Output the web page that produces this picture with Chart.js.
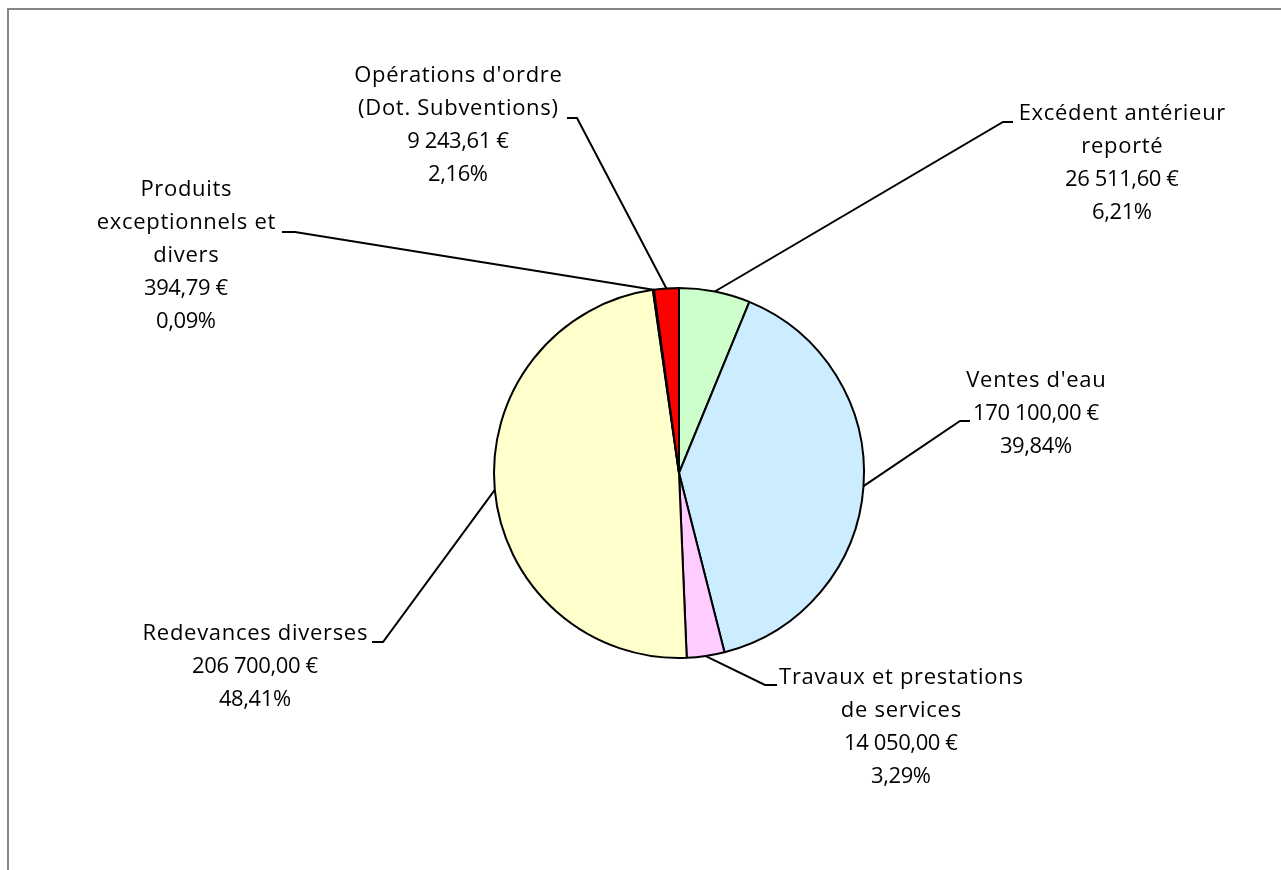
<!DOCTYPE html>
<html>
<head>
<meta charset="utf-8">
<script src="https://cdn.jsdelivr.net/npm/chart.js@4"></script>
<style>
    html, body { margin: 0; padding: 0; background: #fff; overflow: hidden; }
    #frame {
        position: absolute; left: 7px; top: 8px; width: 1290px; height: 880px;
        border-top: 2px solid #868686; border-left: 2px solid #868686;
    }
    #wrap { position: absolute; left: 0; top: 0; width: 1281px; height: 870px; }
</style>
</head>
<body>
<div id="frame"></div>
<div id="wrap"><canvas id="pieChart" width="1281" height="870"></canvas></div>
<script>
// Données (ordre horaire depuis midi)
const categories = [
    ['Excédent antérieur', 'reporté'],
    ["Ventes d'eau"],
    ['Travaux et prestations', 'de services'],
    ['Redevances diverses'],
    ['Produits', 'exceptionnels et', 'divers'],
    ["Opérations d'ordre", '(Dot. Subventions)']
];
const amounts = [26511.60, 170100.00, 14050.00, 206700.00, 394.79, 9243.61];
const sliceColors = ['#CCFFCC', '#CCECFF', '#FFCCFF', '#FFFFCC', '#FFFFFF', '#FF0000'];

// Placement des étiquettes : centre du texte, y de la 1re ligne, coude et fin de la ligne de rappel
const labelLayout = [
    { cx: 1122, y: 114, elbow: [1003, 122], end: [1013, 122] },
    { cx: 1036, y: 381, elbow: [960, 421], end: [970, 421] },
    { cx: 901,  y: 678, elbow: [765, 685], end: [777, 685] },
    { cx: 255,  y: 634, elbow: [383, 642], end: [372, 642] },
    { cx: 186,  y: 190, elbow: [295, 232], end: [282, 232] },
    { cx: 458,  y: 76,  elbow: [577, 118], end: [567, 118] }
];
const lineHeight = 33;
const labelFont = '22px "Open Sans", sans-serif';
const nameSpacing = 0.7;
const valueSpacing = -0.4;

// Format français : 26 511,60 €
function formatEuro(v) {
    const parts = v.toFixed(2).split('.');
    const ent = parts[0].replace(/\B(?=(\d{3})+(?!\d))/g, ' ');
    return ent + ',' + parts[1] + ' €';
}
function formatPct(v, total) {
    return (v / total * 100).toFixed(2).replace('.', ',') + '%';
}

// Étiquettes avec lignes de rappel
const leaderLabels = {
    id: 'leaderLabels',
    afterDatasetsDraw(chart) {
        const ctx = chart.ctx;
        const meta = chart.getDatasetMeta(0);
        const total = amounts.reduce((a, b) => a + b, 0);
        ctx.save();
        meta.data.forEach((arc, i) => {
            const p = arc.getProps(['x', 'y', 'startAngle', 'endAngle', 'outerRadius'], true);
            const mid = (p.startAngle + p.endAngle) / 2;
            const px = p.x + Math.cos(mid) * p.outerRadius;
            const py = p.y + Math.sin(mid) * p.outerRadius;
            const lay = labelLayout[i];

            ctx.strokeStyle = '#000';
            ctx.lineWidth = 2;
            ctx.beginPath();
            ctx.moveTo(px, py);
            ctx.lineTo(lay.elbow[0], lay.elbow[1]);
            ctx.lineTo(lay.end[0], lay.end[1]);
            ctx.stroke();

            const names = categories[i];
            const lines = names.concat([formatEuro(amounts[i]), formatPct(amounts[i], total)]);
            ctx.fillStyle = '#000';
            ctx.font = labelFont;
            ctx.textAlign = 'center';
            ctx.textBaseline = 'middle';
            lines.forEach((txt, k) => {
                const sp = k < names.length ? nameSpacing : valueSpacing;
                ctx.letterSpacing = sp + 'px';
                ctx.fillText(txt, lay.cx + sp / 2, lay.y + k * lineHeight);
            });
        });
        ctx.restore();
    }
};

new Chart(document.getElementById('pieChart').getContext('2d'), {
    type: 'pie',
    data: {
        labels: categories.map(c => c.join(' ')),
        datasets: [{
            data: amounts,
            backgroundColor: sliceColors,
            borderColor: '#000',
            borderWidth: 2
        }]
    },
    options: {
        responsive: false,
        animation: false,
        layout: { padding: { left: 493, right: 416, top: 287, bottom: 211 } },
        plugins: {
            legend: { display: false },
            tooltip: { enabled: false },
            title: { display: false }
        }
    },
    plugins: [leaderLabels]
});
</script>
</body>
</html>
